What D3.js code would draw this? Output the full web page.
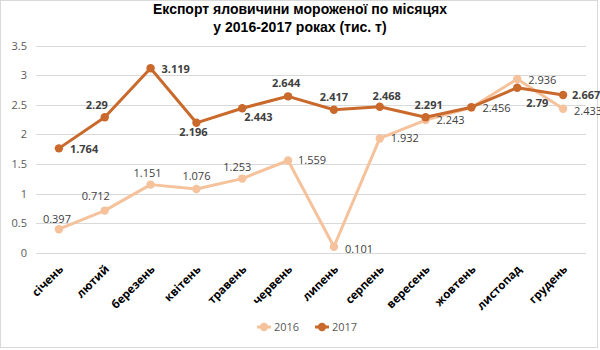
<!DOCTYPE html>
<html>
<head>
<meta charset="utf-8">
<script src="https://cdn.jsdelivr.net/npm/d3@7"></script>
<style>
  html, body { margin: 0; padding: 0; background: #fff; }
  svg { display: block; }
</style>
</head>
<body>
<svg id="chart" width="600" height="350"></svg>
<script>
// Monthly export of frozen beef, thousand tonnes
const months = ["січень", "лютий", "березень", "квітень", "травень", "червень",
                "липень", "серпень", "вересень", "жовтень", "листопад", "грудень"];
const values2016 = [0.397, 0.712, 1.151, 1.076, 1.253, 1.559, 0.101, 1.932, 2.243, 2.456, 2.936, 2.433];
const values2017 = [1.764, 2.29, 3.119, 2.196, 2.443, 2.644, 2.417, 2.468, 2.291, 2.46, 2.79, 2.667];
// which 2017 points carry a value label
const labeled2017 = [true, true, true, true, true, true, true, true, true, false, true, true];
const yTicks = [0, 0.5, 1, 1.5, 2, 2.5, 3, 3.5];
const yTickLabels = ["0", "0.5", "1", "1.5", "2", "2.5", "3", "3.5"];
const seriesNames = ["2016", "2017"];

// label placement per point: [dx, dy, anchor]
const pos2016 = [
  [-2, -10, "middle"], [-9, -14, "middle"], [-3, -11, "middle"], [0, -13, "middle"],
  [-5, -11, "middle"], [10, 0, "start"], [11, 2, "start"], [11, 0, "start"],
  [11, 0, "start"], [11, 1, "start"], [11, 1, "start"], [11, 2, "start"]
];
const pos2017 = [
  [11, 1, "start"], [-8, -12, "middle"], [11, 1, "start"], [-3, 9, "middle"],
  [2, 9, "start"], [-2, -13, "middle"], [0, -13, "middle"], [7, -11, "middle"],
  [3, -12, "middle"], [0, 0, "middle"], [20, 15, "middle"], [9, 0, "start"]
];

const colors = { "2016": "#f5c29c", "2017": "#c9692b" };
const font = "'Open Sans', 'Liberation Sans', sans-serif";

const svg = d3.select("#chart");
const W = 600, H = 350;

// outer frame
svg.append("rect")
  .attr("x", 0.5).attr("y", 0.5)
  .attr("width", W - 3).attr("height", H - 3)
  .attr("fill", "#fff").attr("stroke", "#d9d9d9");

const x = d3.scaleBand().domain(months).range([36, 586]);
const y = d3.scaleLinear().domain([0, 3.5]).range([252.7, 45.7]);
const cx = m => x(m) + x.bandwidth() / 2;

// title
const title = svg.append("text")
  .attr("text-anchor", "middle")
  .attr("font-family", "'Liberation Sans', Arial, sans-serif")
  .attr("font-weight", "bold")
  .attr("font-size", 14)
  .attr("fill", "#000");
title.append("tspan").attr("x", 300).attr("y", 14).text("Експорт яловичини мороженої по місяцях");
title.append("tspan").attr("x", 300).attr("y", 32).text("у 2016-2017 роках (тис. т)");

// horizontal gridlines
svg.append("g")
  .selectAll("line")
  .data(yTicks)
  .join("line")
  .attr("x1", 36).attr("x2", 586)
  .attr("y1", d => Math.round(y(d)) + 0.5)
  .attr("y2", d => Math.round(y(d)) + 0.5)
  .attr("stroke", "#d9d9d9")
  .attr("stroke-width", 1);

// y axis labels
const yAxis = d3.axisLeft(y)
  .tickValues(yTicks)
  .tickFormat((d, i) => yTickLabels[i])
  .tickSize(0)
  .tickPadding(0);
const gy = svg.append("g").attr("transform", "translate(27,0)").call(yAxis);
gy.select(".domain").remove();
gy.selectAll("text")
  .attr("font-family", font)
  .attr("font-size", 11)
  .attr("fill", "#595959");

// x axis labels, rotated
const xAxis = d3.axisBottom(x).tickSize(0).tickPadding(0);
const gx = svg.append("g").attr("transform", "translate(0,253)").call(xAxis);
gx.select(".domain").remove();
gx.selectAll(".tick text")
  .attr("font-family", font)
  .attr("font-size", 11.5)
  .attr("font-weight", "bold")
  .attr("fill", "#000")
  .attr("text-anchor", "end")
  .attr("dy", "0")
  .attr("transform", "translate(5,17) rotate(-45)");

// lines and markers
const line = d3.line()
  .x((d, i) => cx(months[i]))
  .y(d => y(d));

function drawSeries(name, vals) {
  const g = svg.append("g");
  g.append("path")
    .datum(vals)
    .attr("d", line)
    .attr("fill", "none")
    .attr("stroke", colors[name])
    .attr("stroke-width", 3)
    .attr("stroke-linejoin", "round");
  g.selectAll("circle")
    .data(vals)
    .join("circle")
    .attr("cx", (d, i) => cx(months[i]))
    .attr("cy", d => y(d))
    .attr("r", 4.2)
    .attr("fill", colors[name]);
}
drawSeries("2016", values2016);
drawSeries("2017", values2017);

// value labels
svg.append("g")
  .selectAll("text")
  .data(values2016)
  .join("text")
  .attr("x", (d, i) => cx(months[i]) + pos2016[i][0])
  .attr("y", (d, i) => y(d) + pos2016[i][1])
  .attr("dy", "0.35em")
  .attr("text-anchor", (d, i) => pos2016[i][2])
  .attr("font-family", font)
  .attr("font-size", 11)
  .attr("fill", "#404040")
  .text(d => String(d));

svg.append("g")
  .selectAll("text")
  .data(values2017.map((v, i) => ({ v, i })).filter(d => labeled2017[d.i]))
  .join("text")
  .attr("x", d => cx(months[d.i]) + pos2017[d.i][0])
  .attr("y", d => y(d.v) + pos2017[d.i][1])
  .attr("dy", "0.35em")
  .attr("text-anchor", d => pos2017[d.i][2])
  .attr("font-family", font)
  .attr("font-size", 11)
  .attr("font-weight", "bold")
  .attr("fill", "#404040")
  .text(d => String(d.v));

// legend
const legendX = [264, 322];
const lg = svg.append("g");
seriesNames.forEach((name, i) => {
  const lx = legendX[i];
  lg.append("line")
    .attr("x1", lx - 7).attr("x2", lx + 7)
    .attr("y1", 327).attr("y2", 327)
    .attr("stroke", colors[name]).attr("stroke-width", 3);
  lg.append("circle")
    .attr("cx", lx).attr("cy", 327).attr("r", 4.2)
    .attr("fill", colors[name]);
  lg.append("text")
    .attr("x", lx + 10).attr("y", 327).attr("dy", "0.35em")
    .attr("font-family", font).attr("font-size", 11)
    .attr("fill", "#595959")
    .text(name);
});
</script>
</body>
</html>
